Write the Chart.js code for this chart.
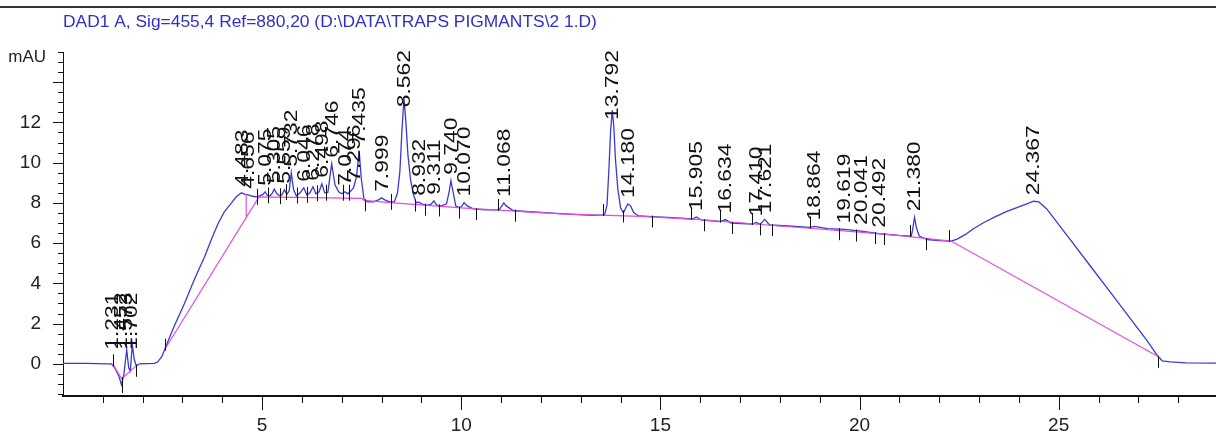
<!DOCTYPE html>
<html><head><meta charset="utf-8">
<script src="https://cdn.jsdelivr.net/npm/chart.js@4.4.1/dist/chart.umd.min.js"></script>
<style>html,body{margin:0;padding:0;background:#fff;overflow:hidden}canvas{display:block}</style>
</head><body>
<canvas id="c" width="1216" height="434"></canvas>
<script>
const titleText = 'DAD1 A, Sig=455,4 Ref=880,20 (D:\\DATA\\TRAPS PIGMANTS\\2 1.D)';
const yUnit = 'mAU';
const xTickLabels = [5, 10, 15, 20, 25];
const yTickLabels = [0, 2, 4, 6, 8, 10, 12];

// Chromatogram signal (minutes, mAU)
const signalTimes = [0,0.6,1.1,1.22,1.3,1.4,1.47,1.53,1.6,1.65,1.69,1.74,1.79,1.84,1.92,2.3,2.38,2.48,2.58,2.8,3.05,3.3,3.56,3.75,3.9,4.05,4.23,4.35,4.483,4.57,4.656,4.75,4.88,
5.02,5.075,5.13,5.2,5.26,5.305,5.37,5.45,5.51,5.559,5.62,5.68,5.732,5.79,5.86,5.95,6.046,6.12,6.2,6.278,6.35,6.43,6.498,6.57,6.65,6.746,6.83,6.92,7.0,7.074,7.15,7.23,7.296,7.37,7.435,7.49,7.56,7.65,7.8,7.92,7.999,8.08,8.2,8.32,
8.4,8.46,8.51,8.562,8.61,8.66,8.73,8.8,8.87,8.932,9.0,9.15,9.25,9.311,9.38,9.5,9.63,9.7,9.74,9.79,9.86,9.96,10.02,10.07,10.15,10.3,10.6,10.95,11.02,11.068,11.13,11.3,11.7,12.2,12.8,13.3,13.6,
13.66,13.71,13.75,13.792,13.83,13.87,13.93,14.0,14.07,14.13,14.18,14.25,14.33,14.45,14.8,15.3,15.8,15.905,16.02,16.5,16.634,16.78,17.3,17.41,17.5,17.621,17.74,18.2,18.75,18.864,19.2,19.619,20.041,20.492,21.0,21.3,21.34,21.38,21.43,21.5,21.7,22.0,22.3,
22.45,22.65,22.85,23.1,23.4,23.7,24.0,24.2,24.367,24.5,24.7,25.3,25.8,26.3,26.8,27.2,27.5,27.6,27.8,28.2,28.95];
const signalValues = [0.02,0.02,0.0,0.0,-0.2,-0.6,-1.05,-0.5,0.7,-0.2,-0.35,0.95,0.2,-0.1,0.0,0.02,0.1,0.35,0.85,1.9,3.0,4.2,5.35,6.3,7.0,7.55,8.0,8.3,8.5,8.42,8.4,8.33,8.3,
8.42,8.55,8.38,8.35,8.5,8.68,8.45,8.33,8.45,8.65,8.42,8.6,9.5,8.65,8.35,8.5,8.75,8.4,8.5,8.8,8.45,8.55,8.95,8.5,8.52,9.95,8.9,8.55,8.45,8.55,8.45,8.6,8.75,9.3,10.6,9.2,8.15,8.05,8.05,8.15,8.25,8.15,8.05,8.05,
8.5,9.6,11.6,13.2,12.0,10.4,9.1,8.4,8.0,8.05,7.95,7.88,7.95,8.1,7.9,7.85,7.95,8.6,9.1,8.6,7.85,7.75,7.85,8.02,7.85,7.7,7.65,7.65,7.85,8.0,7.85,7.62,7.56,7.5,7.43,7.38,7.4,
7.9,9.8,11.6,12.6,11.8,10.2,8.7,7.75,7.5,7.75,7.95,7.85,7.52,7.35,7.32,7.27,7.2,7.3,7.15,7.07,7.17,7.0,6.95,7.03,6.93,7.18,6.9,6.85,6.78,6.83,6.72,6.68,6.6,6.47,6.38,6.35,6.75,7.28,6.75,6.35,6.18,6.12,6.1,
6.2,6.42,6.7,7.0,7.3,7.58,7.8,7.95,8.08,8.05,7.7,6.15,4.85,3.55,2.25,1.2,0.35,0.15,0.1,0.05,0.03];

// Integration baseline (null = break)
const baselineTimes  = [1.25,1.47,1.84,1.9, 2.55,4.92,7.5,7.56,8.3,10,12.5,14.5,16,18,20,21,22.3,27.55,27.6, 4.6,4.6];
const baselineValues = [0.0,-0.75,-0.1,null, 0.7,8.3,8.22,8.12,8.0,7.75,7.45,7.33,7.17,6.85,6.55,6.37,6.1,0.3,null, 8.45,7.3];

// Peak retention times (labels)
const peakTimes = [1.231,1.452,1.573,1.702,4.483,4.656,5.075,5.305,5.559,5.732,6.046,6.278,6.498,6.746,7.074,7.296,7.435,7.999,8.562,8.932,9.311,9.740,10.070,11.068,13.792,14.180,15.905,16.634,17.410,17.621,18.864,19.619,20.041,20.492,21.380,24.367];

// Peak start/end tick marks: u = up, d = down, b = both
const markerTimes = [1.25,1.47,1.84,2.55, 4.88,5.15,5.45,5.59,5.87,6.12,6.37,6.60,7.04,7.18,7.58,8.23, 8.85,9.09,9.45,9.94,10.36,10.93,11.35, 13.57,14.05,14.8,15.78,16.1,16.5,16.79,17.29,17.5,17.81, 18.75,19.49,19.91,20.39,20.61,21.27,21.68,22.25,27.5];
const markerDirs  = ['u','b','d','u', 'b','b','b','b','b','b','b','b','b','b','d','b', 'd','d','d','d','d','u','d', 'u','d','d','u','d','u','d','u','d','d', 'u','d','d','d','d','u','d','u','d'];

function interp(ts, vs, t) {
  for (let i = 0; i < ts.length - 1; i++) {
    if (t >= ts[i] && t <= ts[i+1]) {
      const f = (t - ts[i]) / (ts[i+1] - ts[i]);
      return vs[i] + f * (vs[i+1] - vs[i]);
    }
  }
  return vs[vs.length - 1];
}

const FONT = '"Liberation Sans", Arial, sans-serif';

const overlay = {
  id: 'overlay',
  beforeDraw(chart) {
    const ctx = chart.ctx;
    ctx.save();
    ctx.fillStyle = '#ffffff';
    ctx.fillRect(0, 0, chart.width, chart.height);
    ctx.fillStyle = '#333333';
    ctx.fillRect(0, 6, chart.width, 2);
    ctx.restore();
  },
  afterDraw(chart) {
    const ctx = chart.ctx, ca = chart.chartArea, x = chart.scales.x, y = chart.scales.y;
    ctx.save();
    ctx.strokeStyle = '#111';
    ctx.lineWidth = 1;
    ctx.beginPath();
    for (let k = -3; k <= 31; k++) {
      const v = k * 0.5;
      if (v < y.min || v > y.max) continue;
      const py = Math.round(y.getPixelForValue(v)) + 0.5;
      const len = (k % 4 === 0) ? 10 : 5;
      ctx.moveTo(ca.left, py); ctx.lineTo(ca.left - len, py);
    }
    for (let t = 1; t <= 28; t++) {
      const px = Math.round(x.getPixelForValue(t)) + 0.5;
      const len = (t % 5 === 0) ? 14 : 7;
      ctx.moveTo(px, ca.bottom); ctx.lineTo(px, ca.bottom + len);
    }
    ctx.stroke();

    // unit label
    ctx.fillStyle = '#222';
    ctx.font = '17px ' + FONT;
    ctx.textAlign = 'right';
    ctx.textBaseline = 'middle';
    ctx.fillText(yUnit, 46, y.getPixelForValue(15.25));

    // peak boundary marks
    ctx.beginPath();
    markerTimes.forEach((t, i) => {
      const px = Math.round(x.getPixelForValue(t)) + 0.5;
      const py = y.getPixelForValue(interp(signalTimes, signalValues, t));
      const d = markerDirs[i];
      if (d === 'u') { ctx.moveTo(px, py + 1); ctx.lineTo(px, py - 11); }
      else if (d === 'd') { ctx.moveTo(px, py - 1); ctx.lineTo(px, py + 11); }
      else { ctx.moveTo(px, py - 8); ctx.lineTo(px, py + 8); }
    });
    ctx.stroke();

    // retention time labels
    const stretch = 1.27;
    ctx.font = '18px ' + FONT;
    ctx.fillStyle = '#111';
    ctx.textAlign = 'left';
    ctx.textBaseline = 'middle';
    peakTimes.forEach(t => {
      const txt = t.toFixed(3);
      const px = x.getPixelForValue(t) + 1;
      const v = Math.max(interp(signalTimes, signalValues, t), 0.4);
      let py = y.getPixelForValue(v) - 6;
      const len = ctx.measureText(txt).width * stretch;
      if (py - len < ca.top - 2) py = ca.top - 2 + len;
      ctx.save();
      ctx.translate(px, py);
      ctx.rotate(-Math.PI / 2);
      ctx.scale(stretch, 1);
      ctx.fillText(txt, 0, 0);
      ctx.restore();
    });
    ctx.restore();
  }
};

const toPts = (ts, vs) => ts.map((t, i) => ({ x: t, y: vs[i] }));

new Chart(document.getElementById('c'), {
  type: 'line',
  data: {
    datasets: [
      { label: 'Baseline', data: toPts(baselineTimes, baselineValues), borderColor: '#e04ee0', borderWidth: 1.2, pointRadius: 0, tension: 0, spanGaps: false },
      { label: 'DAD1 A', data: toPts(signalTimes, signalValues), borderColor: '#3a3ad2', borderWidth: 1.3, pointRadius: 0, tension: 0 }
    ]
  },
  options: {
    responsive: false,
    animation: false,
    devicePixelRatio: 1,
    layout: { padding: { left: 0, right: 0, top: 0, bottom: 0 } },
    plugins: {
      legend: { display: false },
      tooltip: { enabled: false },
      title: {
        display: true, text: titleText, align: 'start', fullSize: false,
        color: '#3030c4', font: { family: FONT, size: 17.4, weight: 'normal', lineHeight: 1.2 },
        padding: { top: 12, bottom: 19.12 }
      }
    },
    scales: {
      x: {
        type: 'linear', min: 0, max: 28.95,
        grid: { display: false },
        border: { display: true, color: '#111', width: 2 },
        ticks: {
          stepSize: 5, includeBounds: false, autoSkip: false, maxRotation: 0, padding: 10,
          color: '#222', font: { family: FONT, size: 19 },
          callback: v => xTickLabels.includes(v) ? String(v) : ''
        },
        afterFit: s => { s.height = 38; }
      },
      y: {
        type: 'linear', min: -1.6, max: 15.5,
        grid: { display: false },
        border: { display: true, color: '#111', width: 1 },
        ticks: {
          stepSize: 2, includeBounds: false, autoSkip: false, padding: 14,
          color: '#222', font: { family: FONT, size: 19 },
          callback: v => yTickLabels.includes(v) ? String(v) : ''
        },
        afterFit: s => { s.width = 63; }
      }
    }
  },
  plugins: [overlay]
});
</script>
</body></html>
